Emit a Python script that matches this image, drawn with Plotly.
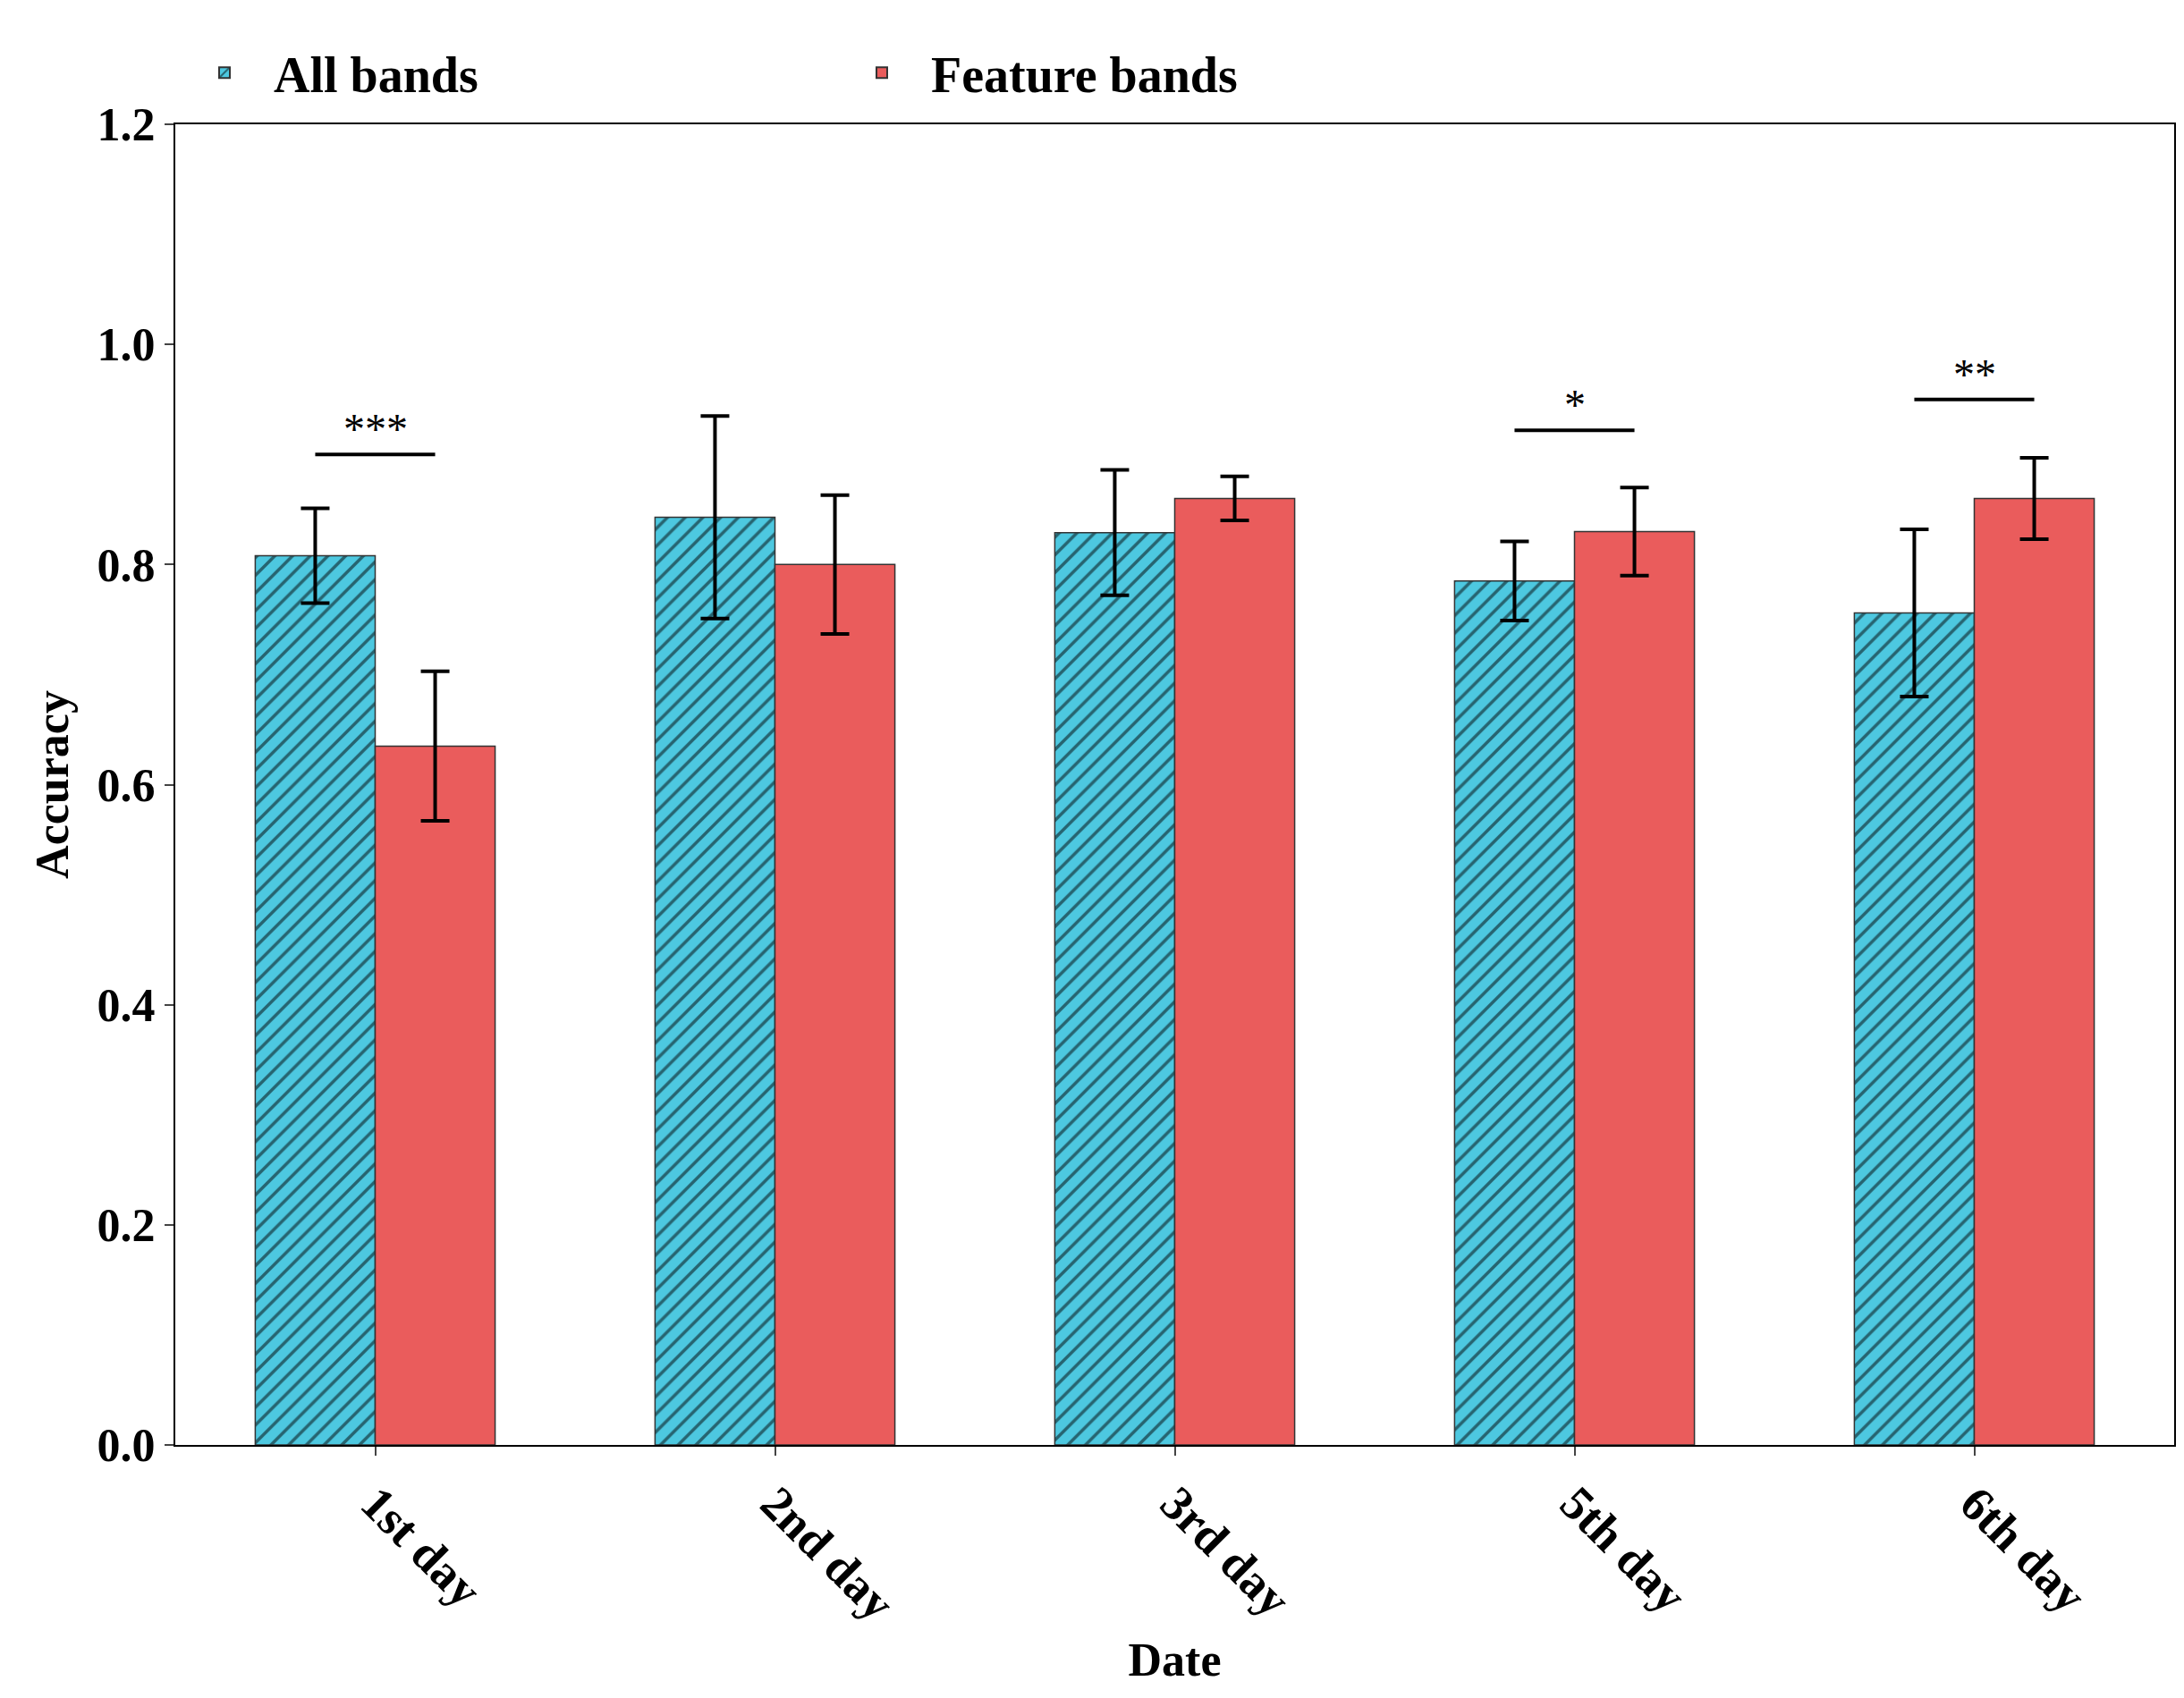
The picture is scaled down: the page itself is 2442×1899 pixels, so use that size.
import plotly.graph_objects as go

days = ["1st day", "2nd day", "3rd day", "5th day", "6th day"]
all_bands = [0.808, 0.843, 0.829, 0.785, 0.756]
all_err = [0.043, 0.092, 0.057, 0.036, 0.076]
feat_bands = [0.635, 0.800, 0.860, 0.830, 0.860]
feat_err = [0.068, 0.063, 0.020, 0.040, 0.037]
sig_idx = [0, 3, 4]
sig_y = [0.90, 0.922, 0.95]
sig_txt = ["***", "*", "**"]

font = dict(family="Liberation Serif", size=40, color="black")
fig = go.Figure()
fig.add_bar(x=days, y=all_bands, name="<b>All bands</b>",
            marker=dict(color="#4DC8E0", line=dict(color="#333", width=1.5),
                        pattern=dict(shape="/", fgcolor="black", bgcolor="#4DC8E0", size=14, solidity=0.25)),
            error_y=dict(type="data", array=all_err, color="black", thickness=4, width=16))
fig.add_bar(x=days, y=feat_bands, name="<b>Feature bands</b>",
            marker=dict(color="#EA5C5C", line=dict(color="#333", width=1.5)),
            error_y=dict(type="data", array=feat_err, color="black", thickness=4, width=16))
for i, y, t in zip(sig_idx, sig_y, sig_txt):
    fig.add_shape(type="line", x0=i - 0.15, x1=i + 0.15, y0=y, y1=y, xref="x", yref="y",
                  line=dict(color="black", width=4))
    fig.add_annotation(x=i, y=y, text=t, showarrow=False, yanchor="bottom",
                       font=dict(family="Liberation Serif", size=48, color="black"))
fig.update_layout(
    width=2442, height=1899, plot_bgcolor="white", paper_bgcolor="white",
    margin=dict(l=188, r=19, t=131, b=291), barmode="group", bargap=0.4, bargroupgap=0,
    font=font,
    legend=dict(orientation="h", x=0.0, y=1.01, xanchor="left", yanchor="bottom",
                font=dict(family="Liberation Serif", size=56, color="black"), itemwidth=100,
                entrywidth=620, itemsizing="constant"),
    xaxis=dict(title=dict(text="<b>Date</b>", font=dict(size=52)), tickangle=45,
               showline=True, linecolor="black", linewidth=2, mirror=True,
               ticks="outside", tickwidth=2, ticklen=10, tickfont=dict(size=54)),
    yaxis=dict(title=dict(text="<b>Accuracy</b>", font=dict(size=52)), range=[0, 1.2], dtick=0.2,
               tickformat=".1f", showline=True, linecolor="black", linewidth=2, mirror=True,
               ticks="outside", tickwidth=2, ticklen=10, showgrid=False, zeroline=False,
               tickfont=dict(size=52)),
)
fig.update_xaxes(tickprefix="<b>", ticksuffix="</b>")
fig.update_yaxes(tickprefix="<b>", ticksuffix="</b>")
fig.write_html("out.html")
